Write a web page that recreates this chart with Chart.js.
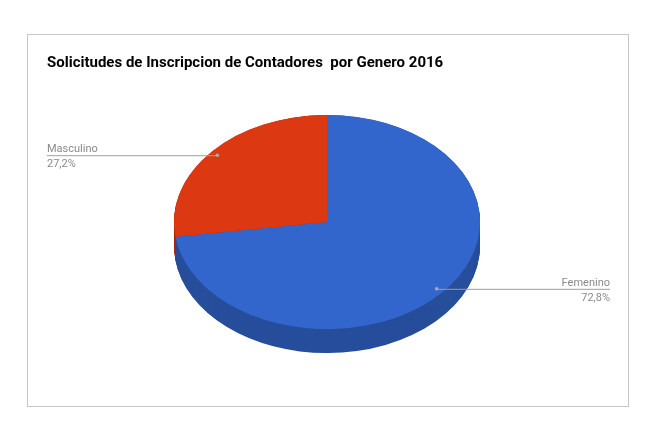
<!DOCTYPE html>
<html>
<head>
<meta charset="utf-8">
<script src="https://cdn.jsdelivr.net/npm/chart.js@4"></script>
<style>
  html, body { margin: 0; padding: 0; background: #fff; }
  #wrap { width: 664px; height: 436px; }
</style>
</head>
<body>
<div id="wrap"><canvas id="pie"></canvas></div>
<script>
const labels = ['Femenino', 'Masculino'];
const shares = [72.8, 27.2];
const pctLabels = ['72,8%', '27,2%'];
const topColors = ['#3366cc', '#dc3912'];
const sideColors = ['#274e9b', '#a72b0e'];
const titleText = 'Solicitudes de Inscripcion de Contadores  por Genero 2016';

const tilt = 0.7;   // vertical squash of the pie
const depth = 24;   // thickness in px

// squash the pie and draw its sides before Chart.js draws the top
const fakeThreeD = {
  id: 'fakeThreeD',
  beforeDatasetsDraw(chart) {
    const ctx = chart.ctx;
    const arcs = chart.getDatasetMeta(0).data;
    const cx = arcs[0].x, cy = arcs[0].y;
    ctx.save();
    ctx.translate(cx, cy);
    ctx.scale(1, tilt);
    ctx.translate(-cx, -cy);
    for (let off = depth / tilt; off > 0; off -= 1) {
      arcs.forEach((a, i) => {
        ctx.beginPath();
        ctx.moveTo(a.x, a.y + off);
        ctx.arc(a.x, a.y + off, a.outerRadius, a.startAngle, a.endAngle);
        ctx.closePath();
        ctx.fillStyle = sideColors[i];
        ctx.fill();
      });
    }
  },
  afterDatasetsDraw(chart) {
    chart.ctx.restore();
  },
  afterDraw(chart) {
    const ctx = chart.ctx;
    const arcs = chart.getDatasetMeta(0).data;
    ctx.save();
    // frame
    ctx.strokeStyle = '#c6c6c6';
    ctx.lineWidth = 1;
    ctx.strokeRect(27.5, 34.5, 601, 372);
    // title
    ctx.fillStyle = '#000';
    ctx.font = 'bold 15px Roboto';
    ctx.textBaseline = 'alphabetic';
    ctx.textAlign = 'left';
    ctx.fillText(titleText, 47, 67);
    // leader lines and labels
    ctx.font = '11px Roboto';
    arcs.forEach((a, i) => {
      const mid = (a.startAngle + a.endAngle) / 2;
      const r = a.outerRadius * 0.95;
      const px = a.x + Math.cos(mid) * r;
      const py = a.y + Math.sin(mid) * r * tilt;
      const left = Math.cos(mid) < 0;
      const ex = left ? 47 : 610;
      ctx.strokeStyle = '#9e9e9e';
      ctx.beginPath();
      ctx.moveTo(px, py + 0.5);
      ctx.lineTo(ex, py + 0.5);
      ctx.stroke();
      ctx.fillStyle = '#aaaaaa';
      ctx.beginPath();
      ctx.arc(px, py, 1.8, 0, Math.PI * 2);
      ctx.fill();
      ctx.fillStyle = '#8a8a8a';
      ctx.textAlign = left ? 'left' : 'right';
      ctx.fillText(labels[i], ex, py - 3);
      ctx.fillText(pctLabels[i], ex, py + 12);
    });
    ctx.restore();
  }
};

new Chart(document.getElementById('pie'), {
  type: 'pie',
  data: {
    labels: labels,
    datasets: [{
      data: shares,
      backgroundColor: topColors,
      borderWidth: 0,
      hoverOffset: 0
    }]
  },
  options: {
    responsive: true,
    maintainAspectRatio: false,
    animation: false,
    layout: { padding: { left: 174, right: 184, top: 69, bottom: 61 } },
    plugins: { legend: { display: false }, tooltip: { enabled: false } }
  },
  plugins: [fakeThreeD]
});
</script>
</body>
</html>
